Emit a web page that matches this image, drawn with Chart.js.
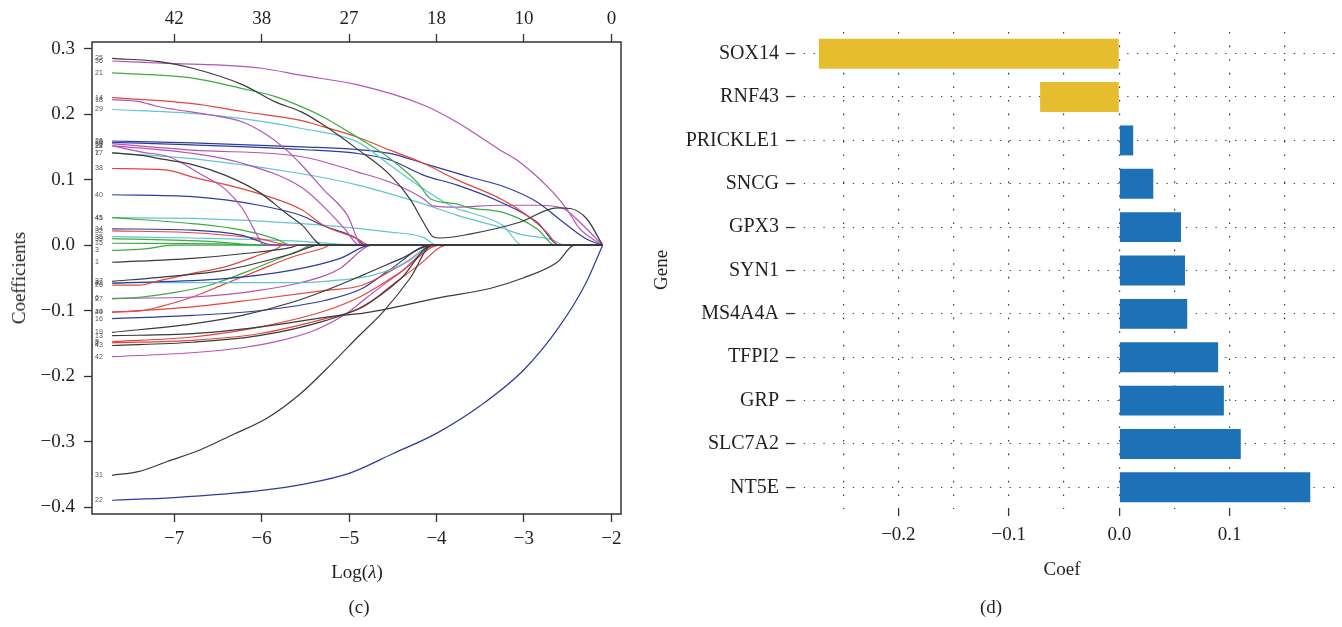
<!DOCTYPE html>
<html>
<head>
<meta charset="utf-8">
<script src="https://cdn.jsdelivr.net/npm/chart.js@4.4.0/dist/chart.umd.min.js"></script>
<style>
body { margin: 0; background: #fff; width: 1342px; height: 627px; position: relative; overflow: hidden;
       font-family: "Liberation Serif", serif; color: #231f20; }
canvas { position: absolute; top: 0; }
.t { position: absolute; font-size: 19px; white-space: nowrap; transform: translate(-50%, -50%); }
.v { transform: translate(-50%, -50%) rotate(-90deg); }
</style>
</head>
<body>
<canvas id="path" width="640" height="590" style="left:0"></canvas>
<canvas id="coef" width="702" height="590" style="left:640px"></canvas>
<div class="t v" style="left:19px;top:278px">Coefficients</div>
<div class="t" style="left:357px;top:572px">Log(<i>λ</i>)</div>
<div class="t" style="left:359px;top:607px">(c)</div>
<div class="t v" style="left:661px;top:270px">Gene</div>
<div class="t" style="left:1062px;top:569px">Coef</div>
<div class="t" style="left:991px;top:607px">(d)</div>
<script>
// ---- panel (c): lasso coefficient paths, [log(lambda), coef] ----
var bottomTicks = [-7, -6, -5, -4, -3, -2],
    topTickValues = [-7, -6, -5, -4, -3, -2],
    topTickLabels = ["42", "38", "27", "18", "10", "0"],
    yTicks = [-0.4, -0.3, -0.2, -0.1, 0, 0.1, 0.2, 0.3],
    lambdaEnd = -2.1;

var v25 = [[-7.71,0.285],[-7.17,0.280],[-6.79,0.270],[-6.22,0.245],[-5.85,0.219],[-5.54,0.203],[-5.3,0.184],[-4.91,0.147],[-4.53,0.107],[-4.3,0.07],[-4.15,0.035],[-4.04,0.013],[-3.96,0.011],[-3.62,0.017],[-3.05,0.035],[-2.62,0.057],[-2.47,0.056],[-2.28,0.04],[-2.1,0]],
    v36 = [[-7.71,0.281],[-7,0.277],[-6.5,0.275],[-6,0.270],[-5.54,0.259],[-4.91,0.245],[-4.15,0.214],[-3.77,0.188],[-3.27,0.145],[-3.05,0.127],[-2.67,0.081],[-2.51,0.055],[-2.36,0.025],[-2.1,0]],
    v21 = [[-7.71,0.263],[-6.79,0.255],[-6.22,0.239],[-5.85,0.227],[-5.54,0.211],[-5.3,0.196],[-4.91,0.165],[-4.53,0.132],[-4.22,0.096],[-4.07,0.071],[-3.77,0.063],[-3.62,0.057],[-3.24,0.05],[-2.85,0.025],[-2.64,0]],
    v14 = [[-7.71,0.225],[-6.79,0.216],[-6.22,0.204],[-5.54,0.19],[-5.3,0.181],[-4.91,0.165],[-4.53,0.145],[-4.15,0.125],[-3.77,0.10],[-3.24,0.069],[-2.97,0.046],[-2.74,0.02],[-2.6,0]],
    v18 = [[-7.71,0.222],[-7.4,0.219],[-7.2,0.212],[-6.99,0.207],[-6.6,0.199],[-6.22,0.188],[-5.96,0.17],[-5.73,0.147],[-5.54,0.122],[-5.3,0.086],[-5.02,0.046],[-4.85,0]],
    v29 = [[-7.71,0.207],[-6.79,0.201],[-6.22,0.193],[-5.54,0.178],[-4.91,0.158],[-4.53,0.122],[-4.15,0.086],[-3.77,0.056],[-3.62,0.05],[-3.24,0.03],[-3.02,0]],
    v28 = [[-7.71,0.159],[-6.79,0.156],[-5.54,0.150],[-4.91,0.146],[-4.53,0.14],[-4.15,0.125],[-3.77,0.11],[-3.62,0.104],[-3.24,0.09],[-2.85,0.066],[-2.55,0.035],[-2.28,0.009],[-2.1,0]],
    v10 = [[-7.71,0.157],[-6.79,0.153],[-5.54,0.146],[-4.91,0.140],[-4.53,0.13],[-4.15,0.107],[-3.77,0.092],[-3.27,0.066],[-2.85,0.035],[-2.59,0]],
    v30 = [[-7.71,0.155],[-6.79,0.145],[-5.54,0.135],[-4.91,0.112],[-4.53,0.096],[-4.15,0.071],[-4.04,0.06],[-3.77,0.058],[-3.27,0.061],[-2.85,0.061],[-2.55,0.056],[-2.36,0.035],[-2.1,0]],
    v24 = [[-7.71,0.152],[-7.37,0.142],[-7.06,0.135],[-6.68,0.107],[-6.42,0.086],[-6.22,0.056],[-6.03,0.01],[-5.98,0]],
    v12 = [[-7.71,0.152],[-6.79,0.14],[-6.22,0.125],[-5.54,0.088],[-5.3,0.06],[-5.05,0.025],[-4.88,0]],
    v17 = [[-7.71,0.141],[-6.79,0.132],[-5.54,0.109],[-4.91,0.092],[-4.15,0.063],[-3.77,0.046],[-3.27,0.027],[-3.05,0.017],[-2.67,0.008],[-2.53,0]],
    v7  = [[-7.71,0.141],[-7.37,0.137],[-7.17,0.132],[-6.79,0.123],[-6.42,0.107],[-6.03,0.081],[-5.73,0.05],[-5.54,0.031],[-5.3,0]],
    v38 = [[-7.71,0.117],[-7.1,0.115],[-6.79,0.104],[-6.22,0.086],[-5.54,0.054],[-5.3,0.031],[-4.91,0.01],[-4.76,0]],
    v40 = [[-7.71,0.077],[-6.79,0.074],[-6.03,0.061],[-5.54,0.045],[-5.3,0.03],[-4.91,0.01],[-4.82,0]],
    v45 = [[-7.71,0.042],[-6.79,0.033],[-6.22,0.023],[-5.85,0.01],[-5.65,0]],
    v41 = [[-7.71,0.042],[-6.79,0.041],[-5.54,0.033],[-4.53,0.02],[-4.15,0.012],[-4.0,0]],
    v34 = [[-7.71,0.025],[-6.79,0.023],[-6.22,0.015],[-5.85,0]],
    v32 = [[-7.71,0.022],[-6.79,0.019],[-6.03,0.01],[-5.65,0]],
    v35 = [[-7.71,0.013],[-6.79,0.011],[-5.54,0.006],[-4.85,0]],
    v39 = [[-7.71,0.010],[-6.6,0.006],[-5.96,0]],
    v15 = [[-7.71,0.003],[-6.5,0.002],[-5.9,0]],
    v3  = [[-7.71,-0.008],[-7.37,-0.006],[-7.0,0]],
    v1  = [[-7.71,-0.026],[-6.79,-0.020],[-6.22,-0.013],[-5.65,-0.003],[-5.58,0]],
    v37 = [[-7.71,-0.055],[-7.17,-0.049],[-6.42,-0.038],[-5.65,-0.013],[-5.34,0]],
    v26 = [[-7.71,-0.061],[-7.4,-0.061],[-7.17,-0.054],[-6.79,-0.043],[-6.42,-0.033],[-6.03,-0.015],[-5.8,-0.003],[-5.77,0]],
    v4  = [[-7.71,-0.058],[-6.42,-0.051],[-5.65,-0.038],[-5.1,-0.02],[-4.75,0]],
    v23 = [[-7.71,-0.057],[-6.5,-0.057],[-5.5,-0.057],[-5.1,-0.053],[-4.73,-0.046],[-4.34,-0.026],[-4.05,0]],
    v27 = [[-7.71,-0.082],[-7.37,-0.079],[-6.99,-0.072],[-6.6,-0.061],[-6.22,-0.043],[-5.85,-0.023],[-5.57,-0.008],[-5.42,0]],
    v6  = [[-7.71,-0.081],[-6.79,-0.079],[-6.03,-0.069],[-5.27,-0.046],[-5.1,-0.035],[-4.73,0]],
    v20 = [[-7.71,-0.102],[-7.37,-0.10],[-7.17,-0.094],[-6.79,-0.079],[-6.42,-0.059],[-6.03,-0.038],[-5.65,-0.018],[-5.27,-0.003],[-5.22,0]],
    v44 = [[-7.71,-0.102],[-6.79,-0.094],[-6.03,-0.082],[-5.27,-0.069],[-4.85,-0.061],[-4.4,-0.03],[-4.0,0]],
    v16 = [[-7.71,-0.112],[-6.79,-0.107],[-6.03,-0.10],[-5.27,-0.084],[-4.85,-0.066],[-4.53,-0.037],[-4.07,0]],
    v19 = [[-7.71,-0.133],[-6.79,-0.12],[-6.22,-0.107],[-5.65,-0.087],[-5.27,-0.069],[-4.85,-0.046],[-4.4,-0.02],[-4.05,0]],
    v13 = [[-7.71,-0.138],[-6.79,-0.135],[-6.03,-0.125],[-5.1,-0.107],[-4.85,-0.104],[-3.96,-0.08],[-3.39,-0.066],[-3.01,-0.05],[-2.62,-0.026],[-2.42,0]],
    v8  = [[-7.71,-0.147],[-6.79,-0.140],[-6.03,-0.125],[-5.27,-0.10],[-4.85,-0.077],[-4.4,-0.04],[-3.96,0]],
    v2  = [[-7.71,-0.149],[-6.79,-0.145],[-6.03,-0.135],[-5.27,-0.112],[-4.85,-0.095],[-4.5,-0.06],[-4.2,-0.03],[-3.88,0]],
    v43 = [[-7.71,-0.153],[-6.79,-0.148],[-6.03,-0.138],[-5.27,-0.115],[-4.85,-0.094],[-4.4,-0.05],[-4.05,0]],
    v42 = [[-7.71,-0.170],[-6.8,-0.164],[-6.2,-0.156],[-5.8,-0.146],[-5.4,-0.130],[-5.03,-0.104],[-4.8,-0.08],[-4.4,-0.04],[-4.0,0]],
    v31 = [[-7.71,-0.351],[-7.4,-0.345],[-7.08,-0.330],[-6.7,-0.312],[-6.33,-0.289],[-5.94,-0.264],[-5.56,-0.227],[-5.2,-0.181],[-4.9,-0.14],[-4.6,-0.10],[-4.3,-0.05],[-4.05,0]],
    v22 = [[-7.71,-0.389],[-7,-0.385],[-6,-0.374],[-5.5,-0.364],[-5,-0.348],[-4.5,-0.318],[-4,-0.287],[-3.5,-0.245],[-3,-0.19],[-2.6,-0.125],[-2.3,-0.06],[-2.1,0]];

var varIds = [25, 36, 21, 14, 18, 29, 28, 10, 30, 24, 12, 17, 7, 38, 40, 45, 41, 34, 32, 35, 39, 15, 3,
              1, 37, 26, 4, 23, 27, 6, 20, 44, 16, 19, 13, 8, 2, 43, 42, 31, 22],
    varPaths = [v25, v36, v21, v14, v18, v29, v28, v10, v30, v24, v12, v17, v7, v38, v40, v45, v41, v34, v32, v35, v39, v15, v3,
                v1, v37, v26, v4, v23, v27, v6, v20, v44, v16, v19, v13, v8, v2, v43, v42, v31, v22];

// ---- panel (d): selected genes ----
var genes = ["SOX14", "RNF43", "PRICKLE1", "SNCG", "GPX3", "SYN1", "MS4A4A", "TFPI2", "GRP", "SLC7A2", "NT5E"],
    coefs = [-0.272, -0.0717, 0.0126, 0.0308, 0.0559, 0.0595, 0.0615, 0.0895, 0.0947, 0.110, 0.1729],
    coefTickValues = [-0.25, -0.2, -0.15, -0.1, -0.05, 0, 0.05, 0.1, 0.15],
    coefTickLabels = ["", "\u22120.2", "", "\u22120.1", "", "0.0", "", "0.1", ""];

var pathColors = ["#3a3a3a", "#e2453e", "#3dab41", "#2e3a9c", "#62c5cf", "#b653b6"],
    textColor = "#231f20",
    serif = "'Liberation Serif', serif";

function minus(s) { return String(s).replace("-", "\u2212"); }

var boxPlugin = {
    id: "box",
    afterDraw: function (chart) {
        var a = chart.chartArea, c = chart.ctx;
        c.save();
        c.strokeStyle = "#333";
        c.lineWidth = 1.5;
        c.strokeRect(a.left, a.top, a.right - a.left, a.bottom - a.top);
        c.restore();
    }
};

var labelPlugin = {
    id: "varLabels",
    afterDatasetsDraw: function (chart) {
        var c = chart.ctx, y = chart.scales.y, left = chart.chartArea.left;
        c.save();
        c.font = "7px 'Liberation Sans'";
        c.fillStyle = "#555";
        c.textBaseline = "middle";
        varIds.forEach(function (id, i) {
            c.fillText(String(id), left + 3, y.getPixelForValue(varPaths[i][0][1]));
        });
        c.restore();
    }
};

function drawPaths() {
    var datasets = varIds.map(function (id, i) {
        var pts = varPaths[i].slice();
        if (pts[pts.length - 1][0] < lambdaEnd) pts.push([lambdaEnd, 0]);
        return {
            label: String(id),
            data: pts.map(function (p) { return { x: p[0], y: p[1] }; }),
            borderColor: pathColors[(id - 1) % 6],
            borderWidth: 1.2,
            pointRadius: 0,
            fill: false,
            order: (id - 1) % 6 === 0 ? 0 : 1,   // black paths on top, as on the zero line
            cubicInterpolationMode: "monotone"
        };
    });
    var tickFont = { family: serif, size: 19 },
        grid = { drawOnChartArea: false, tickLength: 8, tickColor: "#333", tickWidth: 1.3 };

    new Chart(document.getElementById("path"), {
        type: "line",
        data: { datasets: datasets },
        options: {
            responsive: false,
            animation: false,
            layout: { padding: { right: 19 } },
            plugins: { legend: { display: false }, tooltip: { enabled: false } },
            scales: {
                x: {
                    type: "linear", min: -7.94, max: -1.89,
                    afterBuildTicks: function (s) { s.ticks = bottomTicks.map(function (v) { return { value: v }; }); },
                    afterFit: function (s) { s.height = 76; },
                    ticks: { callback: function (v) { return minus(v); }, font: tickFont, color: textColor, padding: 6, maxRotation: 0, autoSkip: false },
                    grid: grid,
                    border: { display: false }
                },
                xTop: {
                    type: "linear", position: "top", min: -7.94, max: -1.89,
                    afterBuildTicks: function (s) { s.ticks = topTickValues.map(function (v) { return { value: v }; }); },
                    afterFit: function (s) { s.height = 42; },
                    ticks: { callback: function (v) { return topTickLabels[topTickValues.indexOf(v)]; }, font: tickFont, color: textColor, padding: 4, maxRotation: 0, autoSkip: false },
                    grid: grid,
                    border: { display: false }
                },
                y: {
                    min: -0.41, max: 0.31,
                    afterBuildTicks: function (s) { s.ticks = yTicks.map(function (v) { return { value: v }; }); },
                    afterFit: function (s) { s.width = 92; },
                    ticks: { callback: function (v) { return minus(v.toFixed(1)); }, font: tickFont, color: textColor, padding: 9 },
                    grid: grid,
                    border: { display: false }
                }
            }
        },
        plugins: [boxPlugin, labelPlugin]
    });
}

function drawCoef() {
    var dataset = [{
        data: coefs,
        backgroundColor: coefs.map(function (v) { return v < 0 ? "#e6bd2e" : "#1c71b7"; }),
        barPercentage: 0.69,
        categoryPercentage: 1
    }];
    new Chart(document.getElementById("coef"), {
        type: "bar",
        data: { labels: genes, datasets: dataset },
        options: {
            indexAxis: "y",
            responsive: false,
            animation: false,
            layout: { padding: { top: 32, right: 7 } },
            plugins: { legend: { display: false }, tooltip: { enabled: false } },
            scales: {
                x: {
                    min: -0.2945, max: 0.1953,
                    afterBuildTicks: function (s) { s.ticks = coefTickValues.map(function (v) { return { value: v }; }); },
                    afterFit: function (s) { s.height = 81; },
                    ticks: {
                        callback: function (v, i) { return coefTickLabels[i]; },
                        font: { family: serif, size: 19 }, color: textColor, padding: 8, maxRotation: 0, autoSkip: false
                    },
                    grid: {
                        color: "#3a3a3a", lineWidth: 1.2, tickLength: 7, tickWidth: 1.3, tickBorderDash: [],
                        tickColor: function (ctx) { return coefTickLabels[ctx.index] ? "#333" : "rgba(0,0,0,0)"; }
                    },
                    border: { display: false, dash: [1.6, 12] }
                },
                y: {
                    afterFit: function (s) { s.width = 154; },
                    ticks: { font: { family: serif, size: 20 }, color: textColor, padding: 7, autoSkip: false },
                    grid: { offset: false, color: "#3a3a3a", lineWidth: 1.1, tickLength: 8, tickColor: "#333", tickWidth: 1.3, tickBorderDash: [] },
                    border: { display: false, dash: [1.3, 8.5] }
                }
            }
        }
    });
}

window.onload = function () {
    drawPaths();
    drawCoef();
};
</script>
</body>
</html>
